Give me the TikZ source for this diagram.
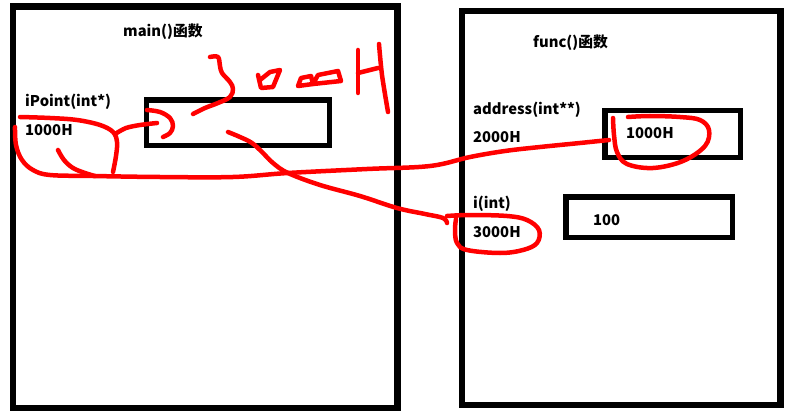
\documentclass[tikz,border=0pt]{standalone}
\usepackage{fontspec}
\setmainfont{Noto Sans CJK SC}
\colorlet{inkColor}{red}
\tikzset{
  stackFrame/.style={
    draw,
    line width=6.5pt
  },
  memCell/.style={
    draw,
    line width=5.5pt,
    inner sep=0pt
  },
  varText/.style={
    anchor=west,
    inner sep=0pt,
    font=\fontsize{14.8}{17}\selectfont\bfseries
  },
  inkStroke/.style={
    inkColor,
    line width=4.5pt,
    line cap=round,
    line join=round
  }
}

\begin{document}
\begin{tikzpicture}[x=1pt, y=-1pt]
\useasboundingbox (0,0) rectangle (792,417);

% Stack frames
\draw[stackFrame] (13,6.5) rectangle (397.5,408);
\draw[stackFrame] (462,11) rectangle (780.5,405);

% === main() ===
\node[varText] (mainTitle) at (123,32) {main()函数};
\node[varText] (ptrName) at (25,102) {iPoint(int*)};
\node[varText] (ptrAddr) at (25,130) {1000H};
\node[memCell, minimum width=183pt, minimum height=45.5pt] (ptrCell) at (238,122.75) {};

% === func() ===
\node[varText] (funcTitle) at (533,43) {func()函数};
\node[varText] (addrName) at (473,110) {address(int**)};
\node[varText] (addrAddr) at (473,137) {2000H};
\node[memCell, minimum width=135.5pt, minimum height=46.5pt] (addrCell) at (672.5,134) {};
\node[varText] (addrValue) at (626,133) {1000H};

\node[varText] (intName) at (473,204) {i(int)};
\node[varText] (intAddr) at (473,232) {3000H};
\node[memCell, minimum width=166.5pt, minimum height=40.5pt] (intCell) at (649,217) {};
\node[varText] (intValue) at (593,220) {100};

% --- red pen: handwritten 3000H above the pointer cell ---
\draw[inkStroke] plot[smooth, tension=0.6] coordinates {(210,57) (218,57) (220,66) (222,73) (230,82) (233,89) (230,97) (218,103) (205,108) (193,114)};
\draw[inkStroke] (258,75) -- (261,88) -- (273,87) -- (280,70) -- (270,72) -- (260,80);
\draw[inkStroke] (298,86) -- (301,78) -- (311,76) -- (313,84) -- cycle;
\draw[inkStroke] (313,84) -- (318,75) -- (338,71) -- (341,81) -- cycle;
\draw[inkStroke] (358,50) -- (358,93);
\draw[inkStroke] (358,73) -- (378,68);
\draw[inkStroke] plot[smooth] coordinates {(379,44) (382,75) (388,112)};

% --- red pen: iPoint loop and arrow into its cell ---
\draw[inkStroke] plot[smooth, tension=0.6] coordinates {(20,117) (50,118) (77,120) (100,125) (113,132) (117,142) (116,156) (113,172)};
\draw[inkStroke] plot[smooth] coordinates {(115,134) (126,128) (140,125) (157,123)};
\draw[inkStroke] plot[smooth, tension=0.6] coordinates {(147,110) (160,112) (170,118) (173,126) (170,133) (163,137)};
\draw[inkStroke] plot[smooth, tension=0.6] coordinates {(58,150) (64,160) (73,168) (85,173) (95,176)};

% iPoint value -> address cell
\draw[inkStroke] plot[smooth, tension=0.6] coordinates {(15,127) (16,145) (22,160) (33,170) (50,175) (93,176) (160,177) (233,177) (288,173) (367,169) (430,166) (470,157) (505,151) (540,147) (580,143) (609,140)};
\draw[inkStroke] plot[smooth, tension=0.6] coordinates {(613,118) (614,135) (617,152) (627,164) (653,168) (683,161) (705,146) (709,130) (700,120) (680,117) (650,116) (628,117)};

% pointer cell -> address of i
\draw[inkStroke] plot[smooth, tension=0.6] coordinates {(228,132) (240,137) (252,143) (262,152) (273,163) (288,173) (320,185) (360,196) (397,208) (425,214) (443,218) (447,223)};
\draw[inkStroke] plot[smooth, tension=0.6] coordinates {(447,216) (470,215) (507,216) (527,220) (539,230) (537,243) (523,250) (500,253) (467,250) (457,243) (455,230) (456,219)};

\end{tikzpicture}
\end{document}
